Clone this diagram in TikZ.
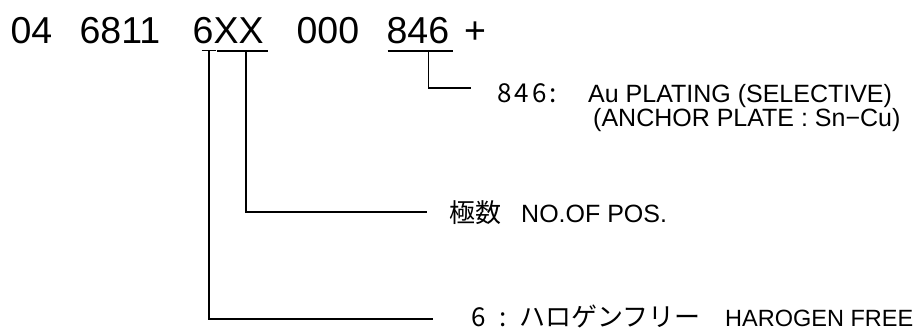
\documentclass[tikz,border=0pt]{standalone}
\usepackage{fontspec}
\setmainfont{Liberation Sans}
\newfontfamily\jp{Noto Sans CJK JP}
\newfontfamily\jpsp[LetterSpace=12]{Noto Sans CJK JP}
\begin{document}
\begin{tikzpicture}[x=1pt,y=-1pt,
  ttl/.style={inner sep=0pt,anchor=base west,font=\fontsize{37.5}{40}\selectfont},
  lab/.style={inner sep=0pt,anchor=base west,font=\fontsize{25}{28}\selectfont},
  jlab/.style={inner sep=0pt,anchor=base west,font=\jp\fontsize{26}{28}\selectfont},
  nlab/.style={inner sep=0pt,anchor=base west,font=\jpsp\fontsize{26}{28}\selectfont},
  conn/.style={line width=1.3pt},
  uthick/.style={line width=2.2pt},
  uthin/.style={line width=0.9pt}]
\useasboundingbox (0,0) rectangle (917,331);
% title pieces
\node[ttl] (t04)   at (10.4,44) {04};
\node[ttl] (t6811) at (79.4,44) {6811};
\node[ttl] (t6xx)  at (192.5,44) {6XX};
\node[ttl] (t000)  at (296.4,44) {000};
\node[ttl] (t846)  at (386.4,44) {846};
\node[ttl] (tplus) at (464,44) {+};
% underline end points
\coordinate (u6a) at (201.5,50);
\coordinate (u6b) at (215.5,50);
\coordinate (uxa) at (216.5,51);
\coordinate (uxb) at (267.5,51);
\coordinate (u8a) at (387.5,51);
\coordinate (u8b) at (452.5,51);
\draw[uthin]  (u6a) -- (u6b);
\draw[uthick] (uxa) -- (uxb);
\draw[uthick] (u8a) -- (u8b);
% connector start points and ends
\coordinate (s6) at (209,50.5);
\coordinate (sx) at (246,52);
\coordinate (s8) at (428.5,52);
\coordinate (e6) at (433,319);
\coordinate (ex) at (427,212);
\coordinate (e8) at (471,88);
\draw[conn] (s6) |- (e6);
\draw[conn] (sx) |- (ex);
\draw[conn] (s8) |- (e8);
% labels
\node[nlab] (l846n) at (497,103) {846};
\node[nlab] (l846c) at (549,103) {:};
\node[lab]  (l846t) at (588,103) {Au PLATING (SELECTIVE)};
\node[lab]  (l846s) at (593,127) {(ANCHOR PLATE : Sn−Cu)};
\node[jlab] (lpj)   at (449,222) {極数};
\node[lab]  (lpe)   at (521,222) {NO.OF POS.};
\node[nlab] (l6n)   at (471,326) {6};
\node[nlab] (l6c)   at (499,326) {:};
\node[jlab] (l6j)   at (519,326) {ハロゲンフリー};
\node[lab,font=\fontsize{23.5}{28}\selectfont] (l6e) at (725,326) {HAROGEN FREE};
\end{tikzpicture}
\end{document}
